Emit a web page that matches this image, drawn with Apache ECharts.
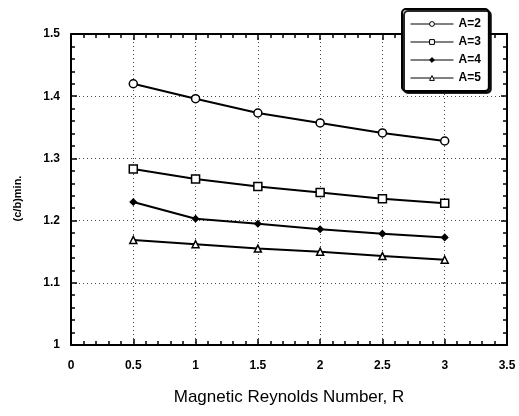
<!DOCTYPE html>
<html>
<head>
<meta charset="utf-8">
<script src="https://cdn.jsdelivr.net/npm/echarts@6/dist/echarts.min.js"></script>
<style>
  html, body { margin: 0; padding: 0; background: #fff; }
  #chart { width: 519px; height: 416px; }
</style>
</head>
<body>
<div id="chart"></div>
<script>
// Magnetic Reynolds number values on the x axis
const reynolds = [0.5, 1.0, 1.5, 2.0, 2.5, 3.0];

// Minimum (c/b) for each aspect ratio A
const seriesNames = ['A=2', 'A=3', 'A=4', 'A=5'];
const valuesA2 = [1.420, 1.396, 1.373, 1.357, 1.341, 1.328];
const valuesA3 = [1.283, 1.267, 1.255, 1.245, 1.235, 1.228];
const valuesA4 = [1.230, 1.203, 1.195, 1.186, 1.179, 1.173];
const valuesA5 = [1.169, 1.162, 1.155, 1.150, 1.143, 1.137];

const xTickLabels = ['0', '0.5', '1', '1.5', '2', '2.5', '3', '3.5'];
const yTickLabels = ['1', '1.1', '1.2', '1.3', '1.4', '1.5'];

const tickFont = { fontFamily: 'Liberation Sans, Arial, sans-serif', fontWeight: 'bold', fontSize: 12, color: '#000' };

function pairs(values) {
  return reynolds.map((r, i) => [r, values[i]]);
}

const markerStyles = [
  { symbol: 'circle', symbolSize: 8, fill: '#fff' },
  { symbol: 'rect', symbolSize: 8, fill: '#fff' },
  { symbol: 'diamond', symbolSize: 6, fill: '#000' },
  { symbol: 'triangle', symbolSize: 7, fill: '#fff' }
];
const allValues = [valuesA2, valuesA3, valuesA4, valuesA5];

const series = seriesNames.map((name, i) => ({
  name: name,
  type: 'line',
  data: pairs(allValues[i]),
  symbol: markerStyles[i].symbol,
  symbolSize: markerStyles[i].symbolSize,
  showAllSymbol: true,
  lineStyle: { color: '#000', width: 2 },
  itemStyle: { color: markerStyles[i].fill, borderColor: '#000', borderWidth: 1.5 },
  emphasis: { disabled: true },
  z: 5
}));

const baseX = {
  type: 'value', min: 0, max: 3.5, interval: 0.5,
  axisLine: { show: true, onZero: false, lineStyle: { color: '#000', width: 2 } },
  axisTick: { show: true, inside: true, length: 6, lineStyle: { color: '#000', width: 1.5 } },
  minorTick: { show: true, splitNumber: 5, length: 4, lineStyle: { color: '#000', width: 1.5 } }
};
const baseY = {
  type: 'value', min: 1, max: 1.5, interval: 0.1,
  axisLine: { show: true, onZero: false, lineStyle: { color: '#000', width: 2 } },
  axisTick: { show: true, inside: true, length: 6, lineStyle: { color: '#000', width: 1.5 } },
  minorTick: { show: true, splitNumber: 5, length: 4, lineStyle: { color: '#000', width: 1.5 } }
};

const chart = echarts.init(document.getElementById('chart'), null, { renderer: 'canvas' });
chart.setOption({
  animation: false,
  backgroundColor: '#fff',
  grid: { left: 71, top: 34, right: 12, bottom: 71, containLabel: false },
  legend: {
    orient: 'vertical',
    left: 402, top: 9,
    padding: [9, 8, 7, 8],
    itemGap: 6,
    itemWidth: 43, itemHeight: 6,
    backgroundColor: '#fff',
    borderColor: '#000', borderWidth: 2, borderRadius: 4,
    shadowColor: 'rgba(0,0,0,0.85)', shadowBlur: 0, shadowOffsetX: 2, shadowOffsetY: 2,
    lineStyle: { width: 1 },
    itemStyle: { borderWidth: 1 },
    textStyle: { fontFamily: 'Liberation Sans, Arial, sans-serif', fontWeight: 'bold', fontSize: 12, lineHeight: 12, color: '#000' },
    data: seriesNames
  },
  xAxis: [
    Object.assign({}, baseX, {
      position: 'bottom',
      name: 'Magnetic Reynolds Number, R',
      nameLocation: 'middle', nameGap: 44,
      nameTextStyle: { fontFamily: 'Liberation Sans, Arial, sans-serif', fontSize: 17, color: '#000' },
      axisLabel: Object.assign({ margin: 15, formatter: v => xTickLabels[Math.round(v / 0.5)] }, tickFont),
      splitLine: { show: true, lineStyle: { color: '#444', type: [1, 3], width: 1 } }
    }),
    Object.assign({}, baseX, {
      position: 'top',
      axisLabel: { show: false },
      splitLine: { show: false }
    })
  ],
  yAxis: [
    Object.assign({}, baseY, {
      position: 'left',
      name: '(c/b)min.',
      nameLocation: 'middle', nameGap: 48, nameRotate: 90,
      nameTextStyle: { fontFamily: 'Liberation Sans, Arial, sans-serif', fontWeight: 'bold', fontSize: 11, color: '#000', padding: [0, 0, 0, -18] },
      axisLabel: Object.assign({ margin: 11, formatter: v => yTickLabels[Math.round((v - 1) / 0.1)] }, tickFont),
      splitLine: { show: true, lineStyle: { color: '#444', type: [1, 3], width: 1 } }
    }),
    Object.assign({}, baseY, {
      position: 'right',
      axisLabel: { show: false },
      splitLine: { show: false }
    })
  ],
  series: series
});
</script>
</body>
</html>
